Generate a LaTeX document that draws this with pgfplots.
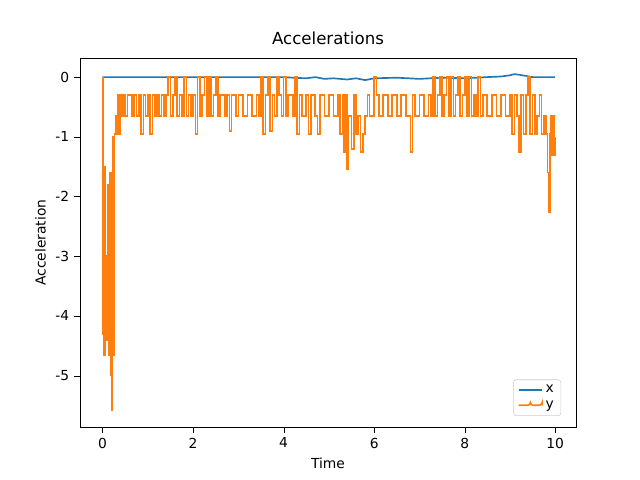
\documentclass[border=0pt]{standalone}
\usepackage{pgfplots}
\pgfplotsset{compat=1.18}
\usepackage{fontspec}
\setmainfont{DejaVu Sans}
\definecolor{c0}{HTML}{1F77B4}
\definecolor{c1}{HTML}{FF7F0E}
\begin{document}
\begin{tikzpicture}
\begin{axis}[scale only axis,width=4.96in,height=3.69in,
 xmin=-0.5,xmax=10.46,ymin=-5.86,ymax=0.32,
 title={Accelerations},title style={font=\fontsize{12}{14}\selectfont},
 xlabel={Time},ylabel={Acceleration},
 font=\fontsize{10}{12}\selectfont,
 /pgf/number format/assume math mode=true,
 xtick={0,2,4,6,8,10},ytick={-5,-4,-3,-2,-1,0},
 tick align=outside,tick style={black},tick pos=left,
 legend pos=south east,legend cell align=left,
 legend style={draw=black!20,rounded corners=2pt,font=\fontsize{10}{12}\selectfont},
 every axis plot/.append style={line width=1.2pt}]
\addplot[c0] coordinates {(0,0)(1,0)(2,0)(3,0)(4,0)(4.2,-0.01)(4.5,-0.02)(4.7,0)(4.9,-0.03)(5.1,-0.02)(5.4,-0.04)(5.6,-0.02)(5.8,-0.05)(6,-0.02)(6.5,-0.01)(7,-0.03)(7.5,-0.01)(8,-0.02)(8.5,0)(8.8,0.01)(9,0.03)(9.1,0.05)(9.2,0.04)(9.35,0.02)(9.5,0)(10,0)};
\addlegendentry{x}
\addplot[c1,const plot] coordinates {(0,0)(0.01,-4.3)(0.02,-3.1)(0.03,-4.65)(0.05,-1.5)(0.06,-4.3)(0.08,-3.0)(0.1,-4.4)(0.11,-1.8)(0.13,-4.65)(0.15,-3.0)(0.17,-1.6)(0.18,-5.0)(0.2,-5.58)(0.21,-3.1)(0.22,-1.0)(0.23,-4.65)(0.25,-3.1)(0.26,-0.95)(0.28,-0.95)(0.3,-0.65)(0.32,-0.95)(0.34,-0.3)(0.36,-0.95)(0.38,-0.3)(0.42,-0.65)(0.45,-0.3)(0.5,-0.65)(0.55,-0.3)(0.6,-0.3)(0.65,-0.65)(0.7,-0.3)(0.75,-0.65)(0.8,-0.3)(0.85,-0.95)(0.9,-0.3)(0.95,-0.65)(1.0,-0.3)(1.05,-0.95)(1.1,-0.3)(1.15,-0.65)(1.2,-0.3)(1.25,-0.65)(1.3,-0.3)(1.35,-0.65)(1.4,-0.3)(1.45,0)(1.5,-0.65)(1.55,-0.3)(1.6,0)(1.65,-0.65)(1.7,-0.3)(1.75,-0.65)(1.8,0)(1.85,-0.65)(1.9,-0.3)(1.95,-0.65)(2.0,-0.3)(2.05,-0.95)(2.1,0)(2.15,-0.65)(2.2,-0.3)(2.25,0)(2.3,-0.65)(2.35,0)(2.4,-0.65)(2.45,-0.3)(2.5,0)(2.55,-0.65)(2.6,-0.3)(2.7,-0.65)(2.75,-0.3)(2.8,-0.9)(2.85,-0.3)(2.95,-0.65)(3.0,-0.3)(3.1,-0.65)(3.2,-0.3)(3.3,-0.65)(3.4,-0.3)(3.45,-0.65)(3.5,0)(3.55,-0.95)(3.6,-0.3)(3.65,0)(3.7,-0.9)(3.75,-0.3)(3.8,-0.65)(3.85,0)(3.9,-0.3)(3.95,-0.65)(4.0,0)(4.05,-0.65)(4.1,-0.3)(4.2,-0.65)(4.25,0)(4.3,-0.95)(4.35,-0.3)(4.4,-0.65)(4.5,-0.3)(4.55,-0.95)(4.6,-0.3)(4.7,-0.65)(4.75,-0.95)(4.8,-0.3)(4.9,-0.65)(5.0,-0.3)(5.1,-0.65)(5.2,-0.3)(5.25,-0.95)(5.3,-0.3)(5.33,-1.25)(5.37,-0.3)(5.4,-1.55)(5.43,-0.65)(5.5,-1.2)(5.55,-0.3)(5.6,-0.95)(5.65,-0.65)(5.7,-1.25)(5.75,-0.95)(5.8,-0.65)(5.85,-0.3)(5.9,-0.65)(6.0,0)(6.05,-0.3)(6.1,-0.65)(6.2,-0.3)(6.3,-0.65)(6.4,-0.3)(6.5,-0.65)(6.6,-0.3)(6.7,-0.65)(6.8,-1.25)(6.85,-0.3)(6.9,-0.65)(7.0,-0.3)(7.1,-0.65)(7.2,-0.3)(7.25,-0.65)(7.3,0)(7.35,-0.65)(7.4,-0.3)(7.45,0)(7.5,-0.65)(7.55,-0.3)(7.6,0)(7.65,-0.65)(7.7,0)(7.75,-0.65)(7.8,-0.3)(7.85,0)(7.9,-0.65)(7.95,-0.3)(8.0,0)(8.05,-0.65)(8.1,0)(8.15,-0.65)(8.2,-0.3)(8.25,-0.65)(8.3,0)(8.35,-0.65)(8.4,-0.3)(8.5,-0.65)(8.6,-0.3)(8.7,-0.65)(8.8,-0.3)(8.9,-0.65)(9.0,-0.3)(9.05,-0.95)(9.1,-0.3)(9.15,-0.65)(9.2,-1.25)(9.25,-0.3)(9.3,-0.95)(9.35,-0.3)(9.4,0)(9.45,-0.95)(9.5,-0.3)(9.55,-0.95)(9.6,-0.65)(9.65,-0.3)(9.7,-0.95)(9.75,-0.65)(9.8,-0.95)(9.83,-1.6)(9.86,-2.27)(9.88,-0.95)(9.9,-0.65)(9.93,-1.3)(9.96,-0.65)(9.98,-1.3)(10,-1.0)};
\addlegendentry{y}
\end{axis}
\useasboundingbox ([shift={(-0.8in,-0.53in)}]current axis.south west) rectangle ([shift={(0.64in,0.58in)}]current axis.north east);
\end{tikzpicture}
\end{document}
